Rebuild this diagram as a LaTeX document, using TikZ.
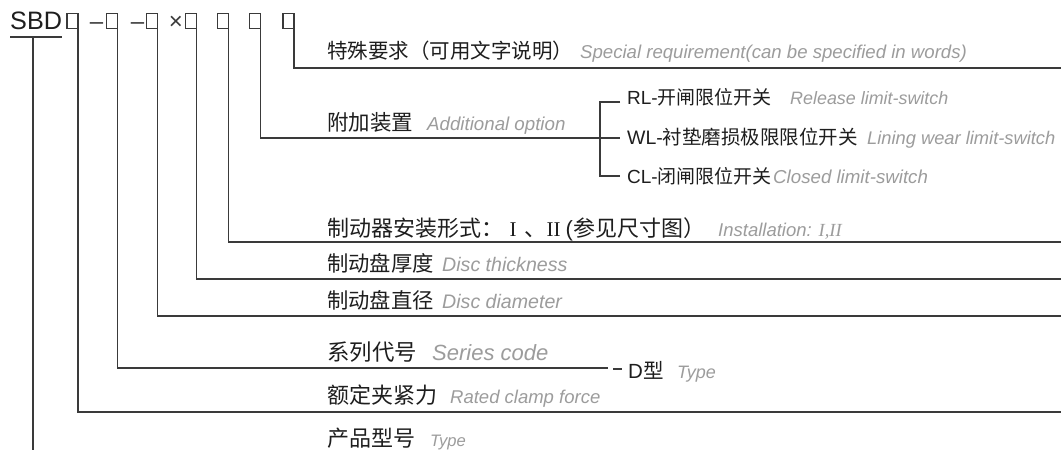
\documentclass[tikz,border=0pt]{standalone}
\usepackage{fontspec}
\setmainfont{Liberation Sans}
\newfontfamily\cjk{Noto Sans CJK SC}
\newfontfamily\tms{Liberation Serif}
\newcommand\fsz[1]{\fontsize{#1}{#1}\selectfont}
\definecolor{ln}{HTML}{3A3A3A}
\definecolor{gr}{HTML}{9C9C9C}
\definecolor{tx}{HTML}{1E1E1E}
\begin{document}
\begin{tikzpicture}[x=1pt,y=-1pt,
  conn/.style={draw=ln, line width=1.3pt},
  codebox/.style={draw=ln, line width=1.1pt, minimum width=11pt, minimum height=15pt, inner sep=0pt, outer sep=0pt, anchor=north east},
  cn/.style={anchor=base west, inner sep=0pt, text=tx, font=\cjk\fsz{#1}},
  lat/.style={anchor=base west, inner sep=0pt, text=tx, font=\fsz{#1}},
  rom/.style={anchor=base west, inner sep=0pt, text=tx, font=\tms\fsz{#1}},
  en/.style={anchor=base west, inner sep=0pt, text=gr, font=\itshape\fsz{#1}},
  sym/.style={anchor=base, inner sep=0pt, text=ln, font=\fsz{#1}},
]
\useasboundingbox (0,0) rectangle (1061,450);
\fill[white] (0,0) rectangle (1061,450);

% code line
\node[lat=25.2] (sbd) at (10,29.5) {SBD};
\draw[conn] ([yshift=-7.5pt]sbd.base west) -- ([yshift=-7.5pt]sbd.base east);
\node[codebox] (b1) at (78,13.5) {};
\node[sym=24] (d1) at (96.5,29.5) {–};
\node[codebox] (b2) at (117.3,13.5) {};
\node[sym=24] (d2) at (137.5,29.5) {–};
\node[codebox] (b3) at (157.3,13.5) {};
\node[sym=24] (x1) at (176,29.5) {×};
\node[codebox] (b4) at (196.7,13.5) {};
\node[codebox] (b5) at (228.3,13.5) {};
\node[codebox] (b6) at (260.7,13.5) {};
\node[codebox] (b7) at (294,13.5) {};

% end coordinates
\coordinate (s0) at (33,37);
\coordinate (e0) at (33,450);
\coordinate (e1) at (1061,412);
\coordinate (e2) at (608,368);
\coordinate (e2a) at (613,369);
\coordinate (e2b) at (622,369);
\coordinate (e3) at (1061,316);
\coordinate (e4) at (1061,279);
\coordinate (e5) at (1061,242);
\coordinate (e6) at (620,138);
\coordinate (e7) at (1061,68);
\coordinate (bt) at (600,102);
\coordinate (bb) at (600,176);
\coordinate (rl) at (620,102);
\coordinate (cl) at (620,176);

% connectors
\draw[conn] (s0) -- (e0);
\draw[conn] (b1.south east) |- (e1);
\draw[conn] (b2.south east) |- (e2);
\draw[conn] (e2a) -- (e2b);
\draw[conn] (b3.south east) |- (e3);
\draw[conn] (b4.south east) |- (e4);
\draw[conn] (b5.south east) |- (e5);
\draw[conn] (b6.south east) |- (e6);
\draw[conn] (b7.south east) |- (e7);
\draw[conn] (rl) -- (bt) -- (bb) -- (cl);

% labels
\node[cn=20.5] (t7) at (327,58) {特殊要求（可用文字说明）};
\node[en=18.6] (t7e) at (580,58) {Special requirement(can be specified in words)};

\node[cn=21.5] (t6) at (327,130) {附加装置};
\node[en=18.7] (t6e) at (427,130) {Additional option};

\node[lat=19] (o1) at (627,104.5) {RL-\cjk 开闸限位开关};
\node[en=17.9] (o1e) at (790,104.5) {Release limit-switch};
\node[lat=19.5] (o2) at (627,144) {WL-\cjk 衬垫磨损极限限位开关};
\node[en=18.3] (o2e) at (867,144) {Lining wear limit-switch};
\node[lat=19] (o3) at (627,183.5) {CL-\cjk 闭闸限位开关};
\node[en=18.7] (o3e) at (773,183.5) {Closed limit-switch};

\node[cn=22] (t5) at (327,236.5) {制动器安装形式：};
\node[rom=21] (t5i) at (509.3,236.5) {I};
\node[cn=22] (t5c) at (524,236.5) {、};
\node[rom=21] (t5ii) at (546.5,236.5) {II};
\node[lat=22] (t5p) at (565.5,236.5) {(\cjk 参见尺寸图）};
\node[en=18.5] (t5e) at (718,236.5) {Installation: {\tms\itshape I,II}};

\node[cn=21.3] (t4) at (327,271) {制动盘厚度};
\node[en=19.6] (t4e) at (442,271) {Disc thickness};

\node[cn=21.3] (t3) at (327,308) {制动盘直径};
\node[en=19.6] (t3e) at (442,308) {Disc diameter};

\node[cn=22.4] (t2) at (327,360.5) {系列代号};
\node[en=22] (t2e) at (432,360.5) {Series code};
\node[lat=20.5] (t2d) at (628,378) {D\cjk 型};
\node[en=18] (t2de) at (677,378) {Type};

\node[cn=22] (t1) at (327,403) {额定夹紧力};
\node[en=18.5] (t1e) at (450,403) {Rated clamp force};

\node[cn=22] (t0) at (327,446) {产品型号};
\node[en=16.6] (t0e) at (430,446) {Type};
\end{tikzpicture}
\end{document}
